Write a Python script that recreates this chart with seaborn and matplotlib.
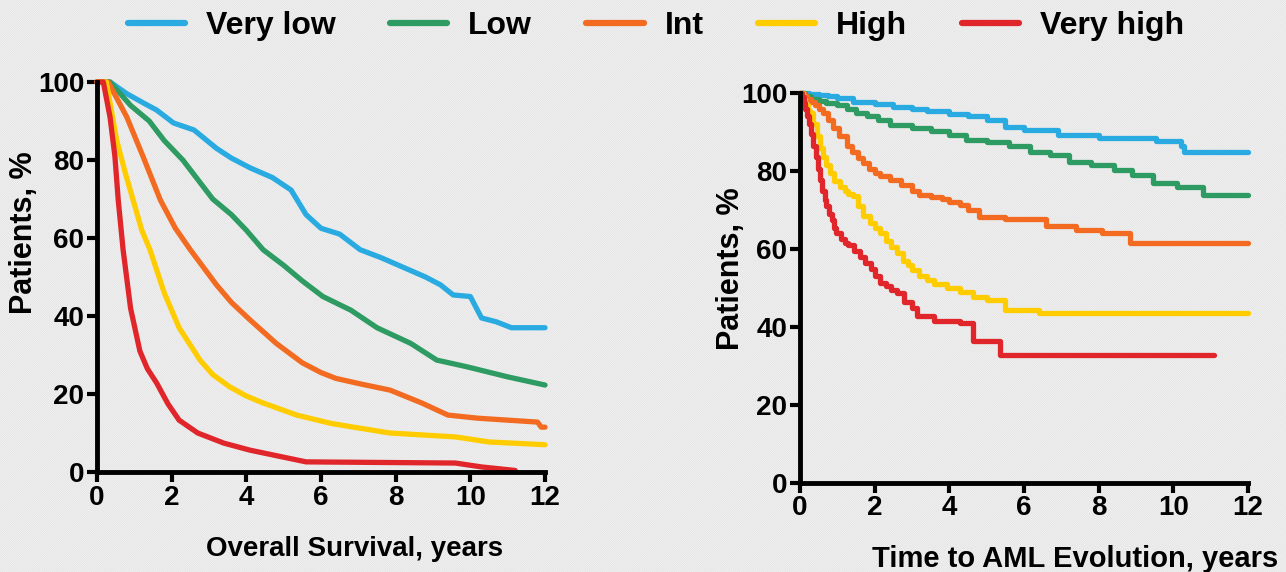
import numpy as np
import pandas as pd
import matplotlib
matplotlib.use("Agg")
import matplotlib.pyplot as plt
import seaborn as sns
from matplotlib.lines import Line2D
from matplotlib.patches import Rectangle

groups = ["Very low", "Low", "Int", "High", "Very high"]
colors = ["#29ABE2", "#2E9B63", "#F26B21", "#FFCC00", "#E0262A"]

# Overall survival (left panel)
os_t = {
    "Very low": [0, 0.35, 0.8, 1.25, 1.6, 2.05, 2.6, 3.2, 3.6, 4.1, 4.7, 5.2, 5.6, 6.0, 6.5, 7.05, 7.6, 8.2, 8.8, 9.2, 9.54, 10.0, 10.3, 10.7, 11.1, 12],
    "Low": [0, 0.35, 0.9, 1.4, 1.8, 2.3, 2.7, 3.1, 3.6, 4.0, 4.45, 5.0, 5.5, 6.05, 6.8, 7.5, 8.4, 9.1, 9.9, 11.0, 12],
    "Int": [0, 0.3, 0.8, 1.23, 1.7, 2.1, 2.5, 3.2, 3.6, 4.1, 4.8, 5.5, 6.0, 6.4, 7.1, 7.85, 8.7, 9.4, 10.2, 11.0, 11.8, 11.9, 12],
    "High": [0, 0.25, 0.53, 0.75, 0.97, 1.2, 1.42, 1.8, 2.2, 2.76, 3.1, 3.56, 4.0, 4.45, 5.35, 6.25, 7.0, 7.85, 9.6, 10.5, 12],
    "Very high": [0, 0.17, 0.35, 0.48, 0.57, 0.7, 0.9, 1.15, 1.35, 1.6, 1.9, 2.2, 2.7, 3.4, 4.1, 4.8, 5.6, 9.6, 10.3, 11.2],
}
os_v = {
    "Very low": [100, 100, 97, 94.6, 92.8, 89.5, 87.7, 83, 80.5, 78, 75.5, 72.3, 66, 62.5, 61, 57, 55, 52.5, 50, 48, 45.4, 45, 39.5, 38.5, 37, 37],
    "Low": [100, 100, 94, 90, 85, 80, 75, 70, 66, 62, 57, 53, 49, 45, 41.5, 37, 33, 28.7, 27, 24.4, 22.3],
    "Int": [100, 100, 91, 81, 69.7, 62.5, 57, 48, 43.5, 39, 33, 28, 25.5, 24, 22.5, 21, 17.7, 14.6, 13.8, 13.3, 12.8, 11.5, 11.5],
    "High": [100, 100, 85, 77, 69.7, 62, 57, 46, 37, 28.7, 25, 21.8, 19.5, 17.7, 14.6, 12.5, 11.3, 10, 9, 7.7, 7],
    "Very high": [100, 100, 91, 81, 69.7, 57, 42, 31, 26.5, 22.8, 17.5, 13.3, 10, 7.4, 5.6, 4.2, 2.6, 2.3, 1.3, 0.4],
}

# Time to AML evolution (right panel), Kaplan-Meier step points
aml_t = {
    "Very low": [0, 0.25, 0.5, 0.75, 1.0, 1.42, 2.0, 2.5, 3.0, 3.4, 4.0, 4.5, 5.0, 5.5, 6.0, 6.9, 8.0, 9.55, 10.2, 10.3, 12],
    "Low": [0, 0.15, 0.3, 0.5, 0.7, 1.0, 1.25, 1.5, 1.8, 2.1, 2.4, 3.0, 3.5, 4.0, 4.46, 5.0, 5.6, 6.15, 6.7, 7.2, 7.8, 8.4, 8.9, 9.45, 10.1, 10.8, 12],
    "Int": [0, 0.1, 0.2, 0.3, 0.4, 0.5, 0.62, 0.75, 0.9, 1.05, 1.25, 1.4, 1.55, 1.7, 1.85, 2.0, 2.14, 2.4, 2.7, 3.0, 3.2, 3.5, 3.8, 4.0, 4.28, 4.5, 4.8, 5.5, 6.6, 7.4, 8.1, 8.83, 12],
    "High": [0, 0.08, 0.15, 0.22, 0.27, 0.35, 0.45, 0.53, 0.62, 0.7, 0.8, 0.92, 1.07, 1.2, 1.3, 1.42, 1.55, 1.7, 1.87, 2.0, 2.14, 2.3, 2.45, 2.6, 2.75, 2.9, 3.0, 3.2, 3.4, 3.6, 3.93, 4.3, 4.63, 5.0, 5.5, 6.4, 12],
    "Very high": [0, 0.05, 0.1, 0.15, 0.2, 0.25, 0.3, 0.36, 0.42, 0.48, 0.54, 0.6, 0.66, 0.71, 0.78, 0.85, 0.92, 0.98, 1.1, 1.2, 1.3, 1.45, 1.6, 1.75, 1.9, 2.0, 2.14, 2.3, 2.45, 2.6, 2.8, 3.0, 3.13, 3.6, 4.28, 4.63, 5.35, 11.1],
}
aml_v = {
    "Very low": [100, 99.8, 99.5, 99.2, 98.8, 97.8, 97.2, 96.5, 96, 95.3, 94.5, 94, 93.2, 91.4, 90.5, 89.3, 88.4, 87.6, 86.3, 85, 85],
    "Low": [100, 99.2, 98.5, 98, 97.5, 96.8, 96, 95, 94, 93, 91.9, 91, 90.3, 89.2, 88, 87.5, 86.5, 85, 84, 82.4, 81.5, 80.3, 79, 76.9, 76, 73.9, 73.9],
    "Int": [100, 99.3, 98.5, 97.7, 96.8, 96, 94.9, 93, 91, 89, 86.3, 84.8, 83.3, 82, 80.5, 79.5, 78.6, 77.8, 76.5, 75, 73.9, 73.3, 72.7, 72, 71.3, 70, 68.3, 67.8, 65.8, 65, 64.1, 61.5, 61.5],
    "High": [100, 98.5, 97, 95.5, 94.9, 92, 88.9, 86, 83.7, 81.5, 79.5, 77.5, 76, 75, 74.2, 73.5, 71, 68.5, 66.6, 65.5, 64.1, 62, 60.5, 58.9, 57, 56, 54.7, 53, 52, 51, 50, 49, 47.8, 47, 44.4, 43.5, 43.5],
    "Very high": [100, 99, 97.5, 96, 94, 92, 89.5, 86.3, 83.5, 80.5, 77.8, 75, 72.5, 70.9, 69, 67.5, 65.5, 64, 62.5, 61.5, 61, 59.5, 58, 56.5, 55, 53, 51.2, 50.5, 49.5, 48.7, 46.5, 45, 42.7, 41.5, 41, 36.3, 32.8, 32.8],
}


def to_long(t_dict, v_dict):
    rows = []
    for g in groups:
        for t, v in zip(t_dict[g], v_dict[g]):
            rows.append({"time": t, "pct": v, "group": g})
    return pd.DataFrame(rows)


sns.set_theme(style="ticks")
plt.rcParams["font.family"] = ["Liberation Sans", "DejaVu Sans"]
plt.rcParams["font.weight"] = "bold"
for key in ["text.color", "axes.labelcolor", "xtick.color", "ytick.color"]:
    plt.rcParams[key] = "black"
plt.rcParams["hatch.linewidth"] = 0.6
plt.rcParams["hatch.color"] = "#e2e2e2"

fig = plt.figure(figsize=(12.86, 5.72), dpi=100)
fig.patch.set_facecolor("white")
# diagonal striped backdrop like the slide
bg = Rectangle((0, 0), 1, 1, transform=fig.transFigure, facecolor="#fafafa",
               edgecolor="#e2e2e2", hatch="/" * 18, linewidth=0, zorder=-10)
fig.patches.append(bg)

ax1 = fig.add_axes([0.0754, 0.1748, 0.3484, 0.6818])
ax2 = fig.add_axes([0.622, 0.1556, 0.3484, 0.6818])

pal = dict(zip(groups, colors))
sns.lineplot(data=to_long(os_t, os_v), x="time", y="pct", hue="group", palette=pal,
             estimator=None, sort=False, linewidth=3.8, legend=False, ax=ax1, clip_on=False)
sns.lineplot(data=to_long(aml_t, aml_v), x="time", y="pct", hue="group", palette=pal,
             estimator=None, sort=False, linewidth=3.8, legend=False, ax=ax2,
             drawstyle="steps-post", clip_on=False)

for ax, xl, xsize, xlab_pos, ylab_pos in [
    (ax1, "Overall Survival, years", 20, (0.576, -0.164), (-0.129, 0.613)),
    (ax2, "Time to AML Evolution, years", 21, (0.615, -0.159), (-0.12, 0.55)),
]:
    ax.set_facecolor("none")
    ax.set_xlim(0, 12)
    ax.set_ylim(0, 100)
    ax.set_xticks(np.arange(0, 13, 2))
    ax.set_yticks(np.arange(0, 101, 20))
    ax.tick_params(axis="both", labelsize=20, width=3, length=7, pad=2, color="black")
    for lab in ax.get_xticklabels() + ax.get_yticklabels():
        lab.set_fontweight("bold")
    for side in ["top", "right"]:
        ax.spines[side].set_visible(False)
    for side in ["left", "bottom"]:
        ax.spines[side].set_linewidth(3.5)
        ax.spines[side].set_color("black")
    ax.set_xlabel(xl, fontsize=xsize, fontweight="bold")
    ax.set_ylabel("Patients, %", fontsize=22, fontweight="bold")
    ax.xaxis.set_label_coords(*xlab_pos)
    ax.yaxis.set_label_coords(*ylab_pos)

handles = [Line2D([0], [0], color=c, lw=4.5) for c in colors]
fig.legend(handles, groups, loc="center", bbox_to_anchor=(0.51, 0.955), ncol=5,
           frameon=False, prop={"size": 23, "weight": "bold"},
           handlelength=1.8, handletextpad=0.65, columnspacing=1.7)

fig.savefig("out.png", dpi=100)
